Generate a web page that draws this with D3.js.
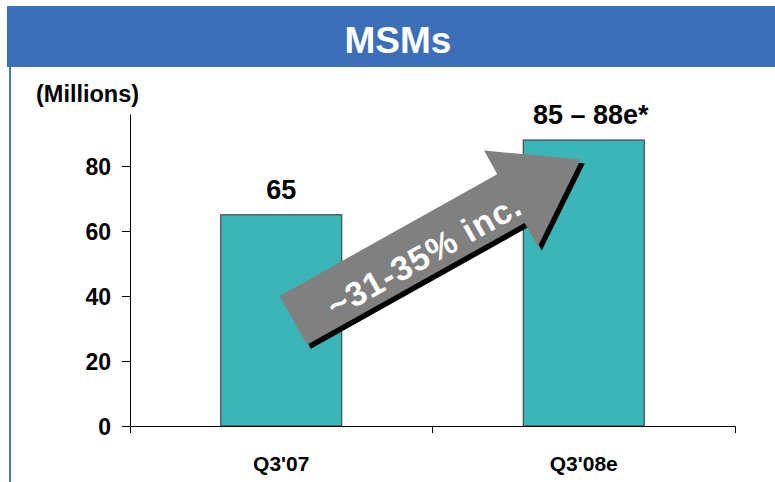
<!DOCTYPE html>
<html>
<head>
<meta charset="utf-8">
<script src="https://cdn.jsdelivr.net/npm/d3@7"></script>
<style>
  body { margin: 0; background: #fff; }
  text { font-family: "Liberation Sans", Arial, sans-serif; font-weight: bold; }
</style>
</head>
<body>
<div id="chart"></div>
<script>
// data
const categories = ["Q3'07", "Q3'08e"];
const values = [65, 88];
const valueLabels = ["65", "85 \u2013 88e*"];
const yTicks = [0, 20, 40, 60, 80];
const title = "MSMs";
const unitLabel = "(Millions)";
const arrowText = "~31-35% inc.";

const W = 775, H = 482;
const margin = {top: 114, left: 130, right: 40, bottom: 56};

const svg = d3.select("#chart")
  .append("svg")
    .attr("width", W)
    .attr("height", H);

// title banner + left rule
svg.append("rect")
  .attr("x", 7).attr("y", 6)
  .attr("width", W - 7).attr("height", 61)
  .attr("fill", "#3d6fb8");
svg.append("rect")
  .attr("x", 9).attr("y", 67)
  .attr("width", 2).attr("height", H - 67)
  .attr("fill", "#4a78c0");
svg.append("text")
  .attr("x", 398).attr("y", 53)
  .attr("text-anchor", "middle")
  .attr("font-size", "37px")
  .attr("fill", "#fff")
  .text(title);

svg.append("text")
  .attr("x", 36).attr("y", 102)
  .attr("font-size", "23.5px")
  .attr("fill", "#000")
  .text(unitLabel);

// scales
const y = d3.scaleLinear()
  .domain([0, 96])
  .range([H - margin.bottom, margin.top]);

const x = d3.scaleBand()
  .domain(categories)
  .range([margin.left, W - margin.right])
  .padding(0);

const barW = x.bandwidth() * 0.4;
const xc = c => x(c) + x.bandwidth() / 2;

// Y axis
const yAxis = svg.append("g")
  .attr("transform", `translate(${margin.left},0)`)
  .call(d3.axisLeft(y).tickValues(yTicks).tickSize(8).tickSizeOuter(0).tickPadding(11));
yAxis.selectAll("text")
  .attr("font-size", "23px")
  .attr("fill", "#000")
  .attr("dy", "0.36em");
yAxis.selectAll("line, path").attr("stroke", "#000");

// bars
svg.selectAll("rect.bar")
  .data(values)
  .join("rect")
    .attr("class", "bar")
    .attr("x", (d, i) => xc(categories[i]) - barW / 2)
    .attr("y", d => y(d))
    .attr("width", barW)
    .attr("height", d => y(0) - y(d))
    .attr("fill", "#3bb5b8")
    .attr("stroke", "#333")
    .attr("stroke-width", 1);

// value labels
svg.selectAll("text.val")
  .data(values)
  .join("text")
    .attr("class", "val")
    .attr("x", (d, i) => xc(categories[i]) + (i === 1 ? 7 : 0))
    .attr("y", d => y(d) - 16)
    .attr("text-anchor", "middle")
    .attr("font-size", "27px")
    .attr("fill", "#000")
    .text((d, i) => valueLabels[i]);

// X axis
const xAxis = svg.append("g")
  .attr("transform", `translate(0,${y(0)})`)
  .call(d3.axisBottom(x).tickSize(0).tickSizeOuter(7).tickPadding(30));
xAxis.selectAll("text")
  .attr("font-size", "21px")
  .attr("fill", "#000");
xAxis.select("path").attr("stroke", "#000");
// tick between the categories
xAxis.selectAll("line.sep")
  .data(categories.slice(1))
  .join("line")
    .attr("class", "sep")
    .attr("x1", d => x(d)).attr("x2", d => x(d))
    .attr("y1", 0).attr("y2", 7)
    .attr("stroke", "#000");

// growth arrow
const p0 = [xc(categories[0]) + 12, y(32.5)];
const p1 = [xc(categories[1]) - 3, y(82)];
const len = Math.hypot(p1[0] - p0[0], p1[1] - p0[1]);
const ang = Math.atan2(p1[1] - p0[1], p1[0] - p0[0]) * 180 / Math.PI;
const headLen = 80, shaftH = 28, headH = 55;
const arrowPts = [
  [0, -shaftH], [len - headLen, -shaftH], [len - headLen, -headH], [len, 0],
  [len - headLen, headH], [len - headLen, shaftH], [0, shaftH]
];

const shadow = svg.append("g")
  .attr("transform", `translate(${p0[0] + 4},${p0[1] + 4}) rotate(${ang})`);
shadow.append("path")
  .attr("d", d3.line()(arrowPts) + "Z")
  .attr("fill", "#000");

const arrow = svg.append("g")
  .attr("transform", `translate(${p0[0]},${p0[1]}) rotate(${ang})`);
arrow.append("path")
  .attr("d", d3.line()(arrowPts) + "Z")
  .attr("fill", "#808080");
arrow.append("text")
  .attr("x", 146).attr("y", 7)
  .attr("text-anchor", "middle")
  .attr("dominant-baseline", "central")
  .attr("font-size", "34px")
  .attr("letter-spacing", "1px")
  .attr("fill", "#fff")
  .text(arrowText);
</script>
</body>
</html>
